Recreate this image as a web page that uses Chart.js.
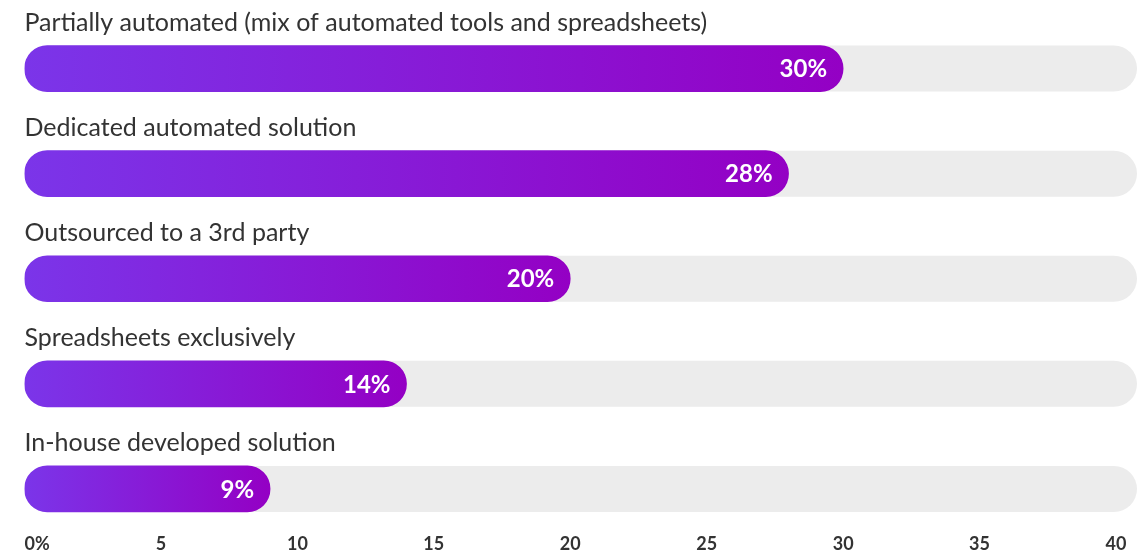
<!DOCTYPE html>
<html>
<head>
<meta charset="utf-8">
<script src="https://cdn.jsdelivr.net/npm/chart.js@4.4.1/dist/chart.umd.min.js"></script>
<style>
  html, body { margin: 0; padding: 0; background: #fff; }
  #wrap { width: 1140px; height: 556px; position: relative; }
</style>
</head>
<body>
<div id="wrap"><canvas id="bars"></canvas></div>
<script>
// survey answers, share of respondents in %
var categories = [
    'Partially automated (mix of automated tools and spreadsheets)',
    'Dedicated automated solution',
    'Outsourced to a 3rd party',
    'Spreadsheets exclusively',
    'In-house developed solution'
];
var shares = [30, 28, 20, 14, 9];
var axisMax = 40;
var axisStep = 5;

var FONT = 'Lato, "Noto Sans", sans-serif';

// grey rounded track behind every bar, plus the question text above it
var trackPlugin = {
    id: 'track',
    beforeDatasetsDraw: function(chart) {
        var ctx = chart.ctx;
        var area = chart.chartArea;
        var bars = chart.getDatasetMeta(0).data;
        ctx.save();
        bars.forEach(function(bar, i) {
            var h = bar.height;
            var left = bar.base;
            var right = area.right + 21;
            ctx.fillStyle = '#ececec';
            ctx.beginPath();
            ctx.roundRect(left, bar.y - h / 2, right - left, h, h / 2);
            ctx.fill();

            ctx.fillStyle = '#333333';
            ctx.font = '400 25px ' + FONT;
            ctx.textAlign = 'left';
            ctx.textBaseline = 'alphabetic';
            ctx.fillText(categories[i], left, bar.y - h / 2 - 15);
        });
        ctx.restore();
    },
    afterDatasetsDraw: function(chart) {
        var ctx = chart.ctx;
        var bars = chart.getDatasetMeta(0).data;
        ctx.save();
        ctx.fillStyle = '#ffffff';
        ctx.font = '700 24px ' + FONT;
        ctx.textAlign = 'right';
        ctx.textBaseline = 'middle';
        bars.forEach(function(bar, i) {
            ctx.fillText(shares[i] + '%', bar.x - 16, bar.y + 1);
        });
        ctx.restore();
    },
    afterDraw: function(chart) {
        // x tick labels; the first one hangs off to the right of zero
        var ctx = chart.ctx;
        var sx = chart.scales.x;
        ctx.save();
        ctx.fillStyle = '#333333';
        ctx.font = '700 18px ' + FONT;
        ctx.textBaseline = 'middle';
        sx.ticks.forEach(function(t, i) {
            var px = sx.getPixelForValue(t.value);
            if (i == 0) {
                ctx.textAlign = 'left';
                ctx.fillText(t.value + '%', px, 544);
            } else {
                ctx.textAlign = 'center';
                ctx.fillText(String(t.value), px, 544);
            }
        });
        ctx.restore();
    }
};

var ctx = document.getElementById('bars').getContext('2d');
var chart = new Chart(ctx, {
    type: 'bar',
    data: {
        labels: categories,
        datasets: [{
            data: shares,
            barThickness: 46,
            borderRadius: 23,
            borderSkipped: false,
            backgroundColor: function(c) {
                var ch = c.chart;
                if (!ch.chartArea || c.parsed == null) return '#8a10d8';
                var sx = ch.scales.x;
                var x0 = sx.getPixelForValue(0);
                var x1 = sx.getPixelForValue(c.parsed.x);
                var g = ch.ctx.createLinearGradient(x0, 0, x1, 0);
                g.addColorStop(0, '#7b35e9');
                g.addColorStop(1, '#9400c4');
                return g;
            }
        }]
    },
    options: {
        indexAxis: 'y',
        responsive: true,
        maintainAspectRatio: false,
        animation: false,
        layout: { padding: { left: 24.5, right: 24, top: 16, bottom: 6.5 } },
        plugins: {
            legend: { display: false },
            tooltip: { enabled: false }
        },
        scales: {
            x: {
                min: 0,
                max: axisMax,
                ticks: { stepSize: axisStep, display: false },
                grid: { display: false },
                border: { display: false }
            },
            y: { display: false }
        }
    },
    plugins: [trackPlugin]
});
</script>
</body>
</html>
